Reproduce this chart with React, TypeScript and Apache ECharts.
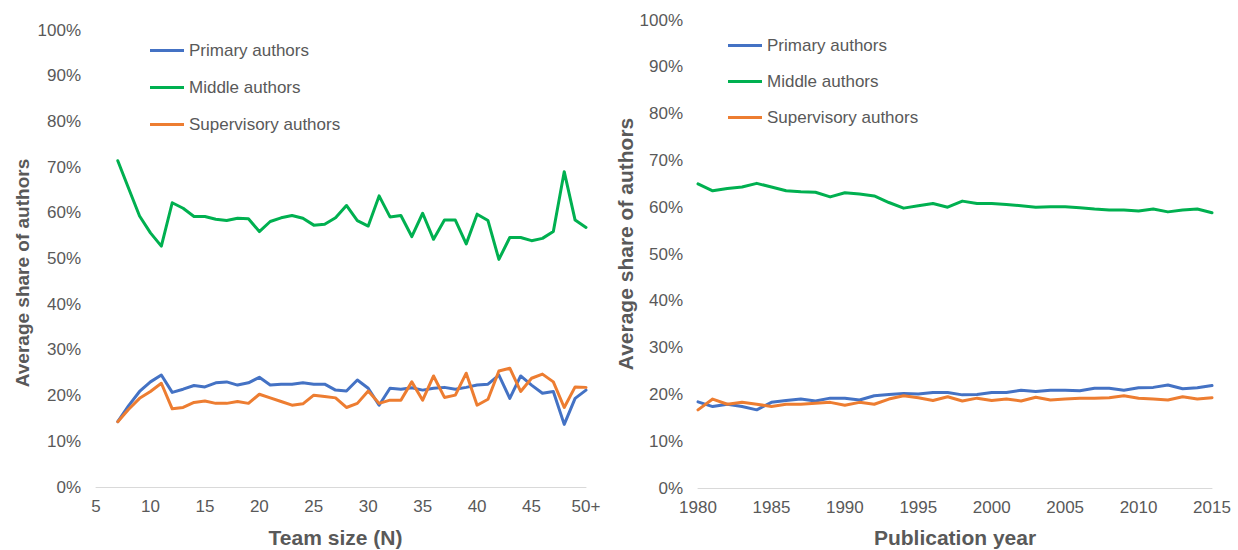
import React, { useEffect, useRef } from "react";
import * as echarts from "echarts";

const seriesNames = ["Primary authors", "Middle authors", "Supervisory authors"];
const colors = ["#4472C4", "#00B050", "#ED7D31"];
const yTitle = "Average share of authors";
const xTitleLeft = "Team size (N)";
const xTitleRight = "Publication year";

// Left chart: team size N = 7 .. 50 (50 = "50+")
const teamSizes = [7, 8, 9, 10, 11, 12, 13, 14, 15, 16, 17, 18, 19, 20, 21, 22, 23, 24, 25, 26, 27, 28, 29, 30, 31, 32, 33, 34, 35, 36, 37, 38, 39, 40, 41, 42, 43, 44, 45, 46, 47, 48, 49, 50];
const teamPrimary = [14.3, 17.8, 20.9, 23.0, 24.5, 20.7, 21.4, 22.2, 21.9, 22.8, 23.0, 22.3, 22.8, 24.0, 22.3, 22.5, 22.5, 22.8, 22.5, 22.5, 21.2, 21.0, 23.4, 21.6, 17.9, 21.6, 21.4, 21.7, 21.2, 21.6, 21.8, 21.4, 21.8, 22.3, 22.5, 24.5, 19.4, 24.3, 22.3, 20.5, 20.9, 13.7, 19.4, 21.2];
const teamMiddle = [71.4, 65.3, 59.3, 55.6, 52.7, 62.2, 61.0, 59.2, 59.2, 58.6, 58.3, 58.8, 58.7, 55.9, 58.1, 58.9, 59.4, 58.8, 57.3, 57.5, 58.9, 61.6, 58.3, 57.1, 63.7, 59.1, 59.4, 54.8, 59.9, 54.2, 58.4, 58.4, 53.2, 59.7, 58.3, 49.8, 54.6, 54.6, 53.9, 54.4, 55.9, 69.0, 58.4, 56.8];
const teamSupervisory = [14.3, 17.0, 19.4, 20.9, 22.7, 17.1, 17.4, 18.5, 18.8, 18.3, 18.3, 18.7, 18.3, 20.3, 19.5, 18.7, 17.9, 18.2, 20.1, 19.8, 19.5, 17.4, 18.3, 21.0, 18.3, 19.0, 19.0, 23.0, 19.0, 24.3, 19.6, 20.1, 24.9, 17.9, 19.2, 25.4, 26.0, 20.9, 23.8, 24.7, 23.0, 17.4, 21.9, 21.8];

// Right chart: publication year 1980 .. 2015
const years = [1980, 1981, 1982, 1983, 1984, 1985, 1986, 1987, 1988, 1989, 1990, 1991, 1992, 1993, 1994, 1995, 1996, 1997, 1998, 1999, 2000, 2001, 2002, 2003, 2004, 2005, 2006, 2007, 2008, 2009, 2010, 2011, 2012, 2013, 2014, 2015];
const yearPrimary = [18.4, 17.4, 17.9, 17.4, 16.7, 18.3, 18.7, 19.0, 18.6, 19.2, 19.2, 18.8, 19.7, 20.0, 20.2, 20.1, 20.4, 20.4, 19.9, 20.0, 20.4, 20.4, 20.9, 20.6, 20.9, 20.9, 20.8, 21.3, 21.3, 20.9, 21.4, 21.5, 22.0, 21.2, 21.4, 21.9];
const yearMiddle = [65.0, 63.5, 64.0, 64.3, 65.1, 64.3, 63.5, 63.3, 63.2, 62.2, 63.1, 62.8, 62.4, 61.0, 59.8, 60.3, 60.8, 60.0, 61.3, 60.8, 60.8, 60.6, 60.3, 60.0, 60.1, 60.1, 59.9, 59.6, 59.4, 59.4, 59.2, 59.6, 59.0, 59.4, 59.6, 58.8];
const yearSupervisory = [16.7, 19.0, 17.9, 18.3, 17.9, 17.4, 17.9, 17.9, 18.1, 18.3, 17.7, 18.3, 17.9, 19.0, 19.7, 19.3, 18.7, 19.5, 18.6, 19.2, 18.7, 19.0, 18.6, 19.4, 18.8, 19.0, 19.2, 19.2, 19.3, 19.7, 19.2, 19.0, 18.8, 19.5, 19.0, 19.3];

const FONT = "'Liberation Sans', Arial, sans-serif";
const GREY = "#595959";

function pairs(xs: number[], ys: number[]) {
  return xs.map((x, i) => [x, ys[i]]);
}

export default function App() {
  const ref = useRef<HTMLDivElement>(null);
  useEffect(() => {
    if (!ref.current) return;
    const chart = echarts.init(ref.current, undefined, { renderer: "svg" });

    const yAxisCommon = (gridIndex: number) => ({
      type: "value",
      gridIndex,
      min: 0,
      max: 100,
      interval: 10,
      axisLine: { show: false },
      axisTick: { show: false },
      splitLine: { show: false },
      axisLabel: {
        formatter: (v: number) => `${v}%`,
        color: GREY,
        fontSize: 17,
        fontFamily: FONT,
        margin: 15,
      },
    });

    const xAxisCommon = {
      type: "value",
      axisLine: { show: true, lineStyle: { color: "#D9D9D9", width: 1 } },
      axisTick: { show: false },
      splitLine: { show: false },
      nameLocation: "middle",
    };

    const legendItem = (name: string, left: number, top: number) => ({
      data: [name],
      left,
      top,
      padding: 0,
      icon: "rect",
      itemWidth: 34,
      itemHeight: 3,
      itemGap: 0,
      textStyle: { color: GREY, fontSize: 17, fontFamily: FONT },
    });

    const lineSeries = (name: string, idx: number, data: number[][], color: string) => ({
      name,
      type: "line",
      xAxisIndex: idx,
      yAxisIndex: idx,
      data,
      showSymbol: false,
      symbol: "none",
      lineStyle: { color, width: 3, join: "round", cap: "round" },
      itemStyle: { color },
    });

    const vTitle = (x: number, y: number, size: number) => ({
      type: "text",
      x,
      y,
      rotation: Math.PI / 2,
      style: {
        text: yTitle,
        fill: GREY,
        fontSize: size,
        fontWeight: "bold",
        fontFamily: FONT,
        align: "center",
        verticalAlign: "middle",
      },
    });

    chart.setOption({
      animation: false,
      backgroundColor: "#ffffff",
      grid: [
        { left: 96, top: 30, width: 490, height: 457, outerBoundsMode: "none", containLabel: false },
        { left: 698, top: 20, width: 514, height: 468, outerBoundsMode: "none", containLabel: false },
      ],
      graphic: [vTitle(22, 273, 19), vTitle(625, 244, 21)],
      legend: [
        legendItem(seriesNames[0], 150, 42),
        legendItem(seriesNames[1], 150, 79),
        legendItem(seriesNames[2], 150, 116),
        legendItem(seriesNames[0], 728, 37),
        legendItem(seriesNames[1], 728, 73),
        legendItem(seriesNames[2], 728, 109),
      ],
      xAxis: [
        {
          ...xAxisCommon,
          gridIndex: 0,
          min: 5,
          max: 50,
          interval: 5,
          axisLabel: {
            formatter: (v: number) => (v === 50 ? "50+" : `${v}`),
            color: GREY,
            fontSize: 17,
            fontFamily: FONT,
            margin: 11,
          },
          name: xTitleLeft,
          nameGap: 40,
          nameTextStyle: {
            color: GREY,
            fontSize: 21,
            fontWeight: "bold",
            fontFamily: FONT,
            padding: [0, 11, 0, 0],
          },
        },
        {
          ...xAxisCommon,
          gridIndex: 1,
          min: 1980,
          max: 2015,
          interval: 5,
          axisLabel: {
            formatter: (v: number) => `${v}`,
            color: GREY,
            fontSize: 17,
            fontFamily: FONT,
            margin: 11,
          },
          name: xTitleRight,
          nameGap: 39,
          nameTextStyle: { color: GREY, fontSize: 21, fontWeight: "bold", fontFamily: FONT },
        },
      ],
      yAxis: [yAxisCommon(0), yAxisCommon(1)],
      series: [
        lineSeries(seriesNames[0], 0, pairs(teamSizes, teamPrimary), colors[0]),
        lineSeries(seriesNames[1], 0, pairs(teamSizes, teamMiddle), colors[1]),
        lineSeries(seriesNames[2], 0, pairs(teamSizes, teamSupervisory), colors[2]),
        lineSeries(seriesNames[0], 1, pairs(years, yearPrimary), colors[0]),
        lineSeries(seriesNames[1], 1, pairs(years, yearMiddle), colors[1]),
        lineSeries(seriesNames[2], 1, pairs(years, yearSupervisory), colors[2]),
      ],
    });
    return () => chart.dispose();
  }, []);

  return (
    <div
      ref={ref}
      style={{ position: "absolute", left: 0, top: 0, width: 1238, height: 550, background: "#fff" }}
    />
  );
}
